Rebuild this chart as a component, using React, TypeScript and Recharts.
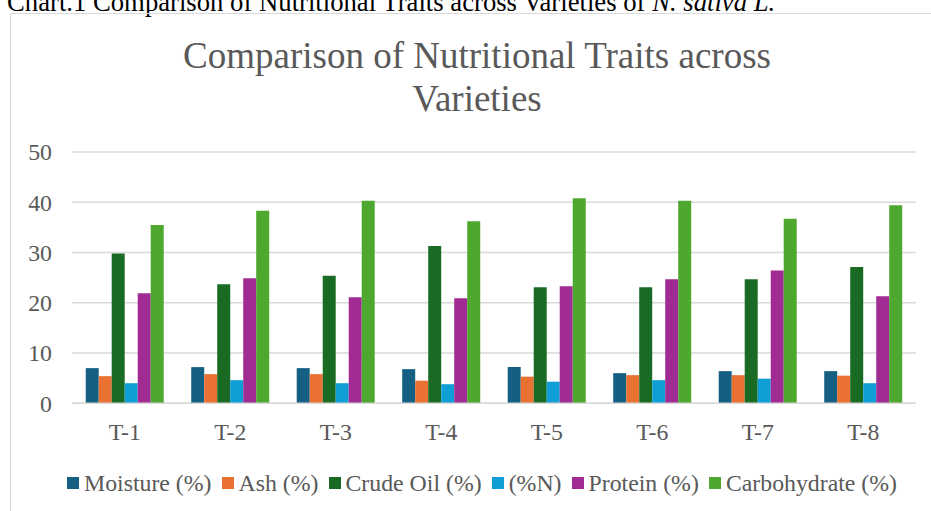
import React from 'react'
import { BarChart, Bar, XAxis, YAxis, CartesianGrid, Legend } from 'recharts'

// ── data ─────────────────────────────────────────────────────────────────
const categories = ['T-1', 'T-2', 'T-3', 'T-4', 'T-5', 'T-6', 'T-7', 'T-8']
const moisture = [7.0, 7.2, 7.0, 6.8, 7.2, 6.0, 6.4, 6.4]
const ash = [5.4, 5.8, 5.8, 4.5, 5.3, 5.6, 5.6, 5.5]
const crudeOil = [29.8, 23.7, 25.4, 31.3, 23.1, 23.1, 24.7, 27.1]
const nitrogen = [4.0, 4.6, 4.0, 3.8, 4.3, 4.6, 4.9, 4.0]
const protein = [21.9, 24.9, 21.1, 20.9, 23.3, 24.7, 26.4, 21.3]
const carbohydrate = [35.5, 38.3, 40.3, 36.2, 40.8, 40.3, 36.7, 39.4]
const yTicks = [0, 10, 20, 30, 40, 50]

// Office 2023 palette
const SERIES = [
  { key: 'moisture', name: 'Moisture (%)', color: '#156082', values: moisture },
  { key: 'ash', name: 'Ash (%)', color: '#E97132', values: ash },
  { key: 'crudeOil', name: 'Crude Oil (%)', color: '#196B24', values: crudeOil },
  { key: 'nitrogen', name: '(%N)', color: '#0F9ED5', values: nitrogen },
  { key: 'protein', name: 'Protein (%)', color: '#A02B93', values: protein },
  { key: 'carbohydrate', name: 'Carbohydrate (%)', color: '#4EA72E', values: carbohydrate }
]

const data = categories.map((c, i) => {
  const row: Record<string, string | number> = { name: c }
  SERIES.forEach(s => { row[s.key] = s.values[i] })
  return row
})

const FONT = '"Liberation Serif", "Times New Roman", serif'
const GREY = '#595959'
const GRID = '#d9d9d9'

// legend kept in series order (recharts 3 sorts by name otherwise)
const SeriesLegend = () => (
  <div
    style={{
      textAlign: 'center',
      fontFamily: FONT,
      fontSize: 23.8,
      lineHeight: '27px',
      color: GREY,
      whiteSpace: 'nowrap'
    }}
  >
    {SERIES.map((s, i) => (
      <span key={s.key} style={{ marginRight: i < SERIES.length - 1 ? 10 : 0 }}>
        <span
          style={{
            display: 'inline-block',
            width: 12,
            height: 12,
            background: s.color,
            marginRight: 5,
            verticalAlign: '2px'
          }}
        />
        {s.name}
      </span>
    ))}
  </div>
)

export default function App() {
  return (
    <div
      style={{
        position: 'absolute',
        left: 0,
        top: 0,
        width: 931,
        height: 511,
        overflow: 'hidden',
        background: '#fff',
        fontFamily: FONT
      }}
    >
      {/* caption from the document, clipped at the top as in the source */}
      <div
        style={{
          position: 'absolute',
          left: 7,
          top: -13.5,
          fontSize: 26.7,
          lineHeight: '30px',
          color: '#000',
          fontFamily: FONT,
          whiteSpace: 'nowrap'
        }}
      >
        Chart.1 Comparison of Nutritional Traits across Varieties of <i>N. sativa L.</i>
      </div>

      {/* chart frame */}
      <div
        style={{
          position: 'absolute',
          left: 10,
          top: 12.5,
          width: 960,
          height: 560,
          border: `1.5px solid ${GRID}`
        }}
      />

      {/* title */}
      <div
        style={{
          position: 'absolute',
          left: 0,
          width: 954,
          top: 33.7,
          textAlign: 'center',
          fontFamily: FONT,
          fontSize: 37,
          lineHeight: '43px',
          color: GREY
        }}
      >
        Comparison of Nutritional Traits across
        <br />
        Varieties
      </div>

      <div style={{ position: 'absolute', left: 0, top: 0, fontFamily: FONT }}>
        <BarChart
          width={931}
          height={511}
          data={data}
          margin={{ top: 152, right: 15, bottom: 77.7, left: 12 }}
          barCategoryGap="13%"
          barGap={0}
        >
          <CartesianGrid vertical={false} stroke={GRID} strokeWidth={1.5} />
          <XAxis
            dataKey="name"
            axisLine={{ stroke: GRID, strokeWidth: 1.5 }}
            tickLine={false}
            tickSize={0}
            tickMargin={20}
            tick={{ fill: GREY, fontSize: 23.8, fontFamily: FONT }}
          />
          <YAxis
            width={60}
            domain={[0, 50]}
            ticks={yTicks}
            axisLine={false}
            tickLine={false}
            tickSize={0}
            tickMargin={20}
            tick={{ fill: GREY, fontSize: 23.8, fontFamily: FONT }}
          />
          <Legend
            layout="horizontal"
            verticalAlign="middle"
            align="center"
            wrapperStyle={{ top: 470, left: 17, width: 930 }}
            content={<SeriesLegend />}
          />
          {SERIES.map(s => (
            <Bar
              key={s.key}
              dataKey={s.key}
              name={s.name}
              fill={s.color}
              isAnimationActive={false}
            />
          ))}
        </BarChart>
      </div>
    </div>
  )
}
